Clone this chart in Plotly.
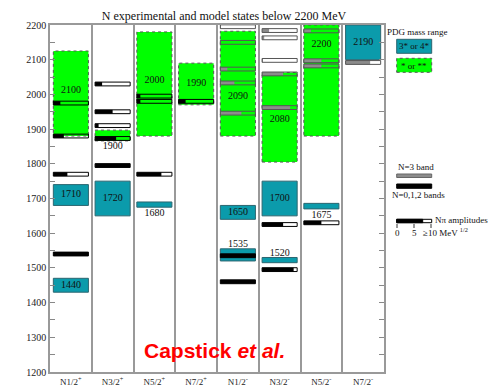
import numpy as np
import plotly.graph_objects as go

# columns (partial waves)
columns = ["N1/2<sup>+</sup>", "N3/2<sup>+</sup>", "N5/2<sup>+</sup>", "N7/2<sup>+</sup>",
           "N1/2<sup>-</sup>", "N3/2<sup>-</sup>", "N5/2<sup>-</sup>", "N7/2<sup>-</sup>"]

# PDG 3* / 4* states: column, mass range, name
teal_col = [0, 0, 1, 2, 4, 4, 5, 5, 6, 7]
teal_lo = [1430, 1680, 1650, 1675, 1520, 1640, 1515, 1650, 1670, 2100]
teal_hi = [1470, 1740, 1750, 1690, 1555, 1680, 1530, 1750, 1686, 2200]
teal_name = ["1440", "1710", "1720", "1680", "1535", "1650", "1520", "1700", "1675", "2190"]
teal_label_y = [1450, 1711, 1700, 1657, 1568, 1660, 1542, 1700, 1652, 2150]

# PDG * / ** states
green_col = [0, 1, 2, 3, 4, 5, 6]
green_lo = [1880, 1866, 1880, 1970, 1880, 1805, 1880]
green_hi = [2125, 1897, 2180, 2090, 2182, 2063, 2200]
green_name = ["2100", "1900", "2000", "1990", "2090", "2080", "2200"]
green_label_y = [2011, 1851, 2041, 2030, 1995, 1929, 2145]

# model states: column, mass, N pi amplitude fraction, band (0: N=0,1,2  1: N=3)
model_col = [0, 0, 0, 0,
             1, 1, 1, 1, 1,
             2, 2, 2,
             3,
             4, 4, 4, 4, 4, 4, 4,
             5, 5, 5, 5, 5, 5, 5,
             6, 6, 6, 6,
             7]
model_mass = [1540, 1770, 1880, 1975,
              1795, 1873, 1910, 1950, 2030,
              1770, 1980, 1995,
              1980,
              1460, 1535, 1946, 2033, 2073, 2150, 2195,
              1495, 1625, 1962, 2059, 2098, 2163, 2184,
              1630, 2082, 2097, 2183,
              2092]
model_amp = [1.0, 0.4, 0.3, 0.2,
             1.0, 0.6, 0.1, 0.5, 0.2,
             0.7, 0.1, 0.1,
             0.2,
             1.0, 1.0, 0.6, 0.4, 0.2, 0.0, 0.0,
             0.9, 0.6, 0.8, 0.6, 0.0, 0.06, 0.2,
             0.5, 0.5, 0.5, 0.2,
             0.7]
model_band = [0, 0, 0, 0,
              0, 0, 0, 0, 0,
              0, 0, 0,
              0,
              0, 0, 1, 1, 1, 1, 1,
              0, 0, 1, 1, 1, 1, 1,
              0, 1, 1, 1,
              1]

serif = "Liberation Serif, Times New Roman, serif"
teal = "#0B9BAB"
half = 0.42
bar_h = 11

fig = go.Figure()

# PDG 3*/4* boxes
fig.add_trace(go.Bar(x=teal_col, base=teal_lo,
                     y=np.array(teal_hi) - np.array(teal_lo),
                     width=2 * half, marker=dict(color=teal, line=dict(color="#2C6670", width=1))))

# model bars: filled part then outline
mcol = np.array(model_col)
mmass = np.array(model_mass)
mamp = np.array(model_amp)
fill_col = ["#000000" if b == 0 else "#8C8C8C" for b in model_band]
edge_col = ["#000000" if b == 0 else "#555555" for b in model_band]
fig.add_trace(go.Bar(x=mcol, base=mmass - bar_h / 2, y=[bar_h] * len(mcol),
                     width=2 * half * mamp, offset=[-half] * len(mcol),
                     marker=dict(color=fill_col, line=dict(width=0))))
fig.add_trace(go.Bar(x=mcol, base=mmass - bar_h / 2, y=[bar_h] * len(mcol),
                     width=2 * half, offset=[-half] * len(mcol),
                     marker=dict(color="rgba(0,0,0,0)", line=dict(color=edge_col, width=1))))

# labels
fig.add_trace(go.Scatter(x=teal_col + green_col, y=teal_label_y + green_label_y,
                         text=teal_name + green_name, mode="text",
                         textfont=dict(family=serif, size=10, color="#111")))

# PDG * / ** boxes (dashed)
for c, lo, hi in zip(green_col, green_lo, green_hi):
    fig.add_shape(type="rect", xref="x", yref="y", x0=c - half, x1=c + half, y0=lo, y1=hi,
                  fillcolor="#00FF00", line=dict(color="#555", width=1, dash="dot"), layer="below")

# page has an 8px body margin, so the figure starts at (8, 8)
# helpers: page pixel -> paper coords (plot area is x 50..384, y 25..372 on the page)
def px(x):
    return (x - 50) / 334

def py(y):
    return (372 - y) / 347

legend_shapes = [
    (396.7, 431.7, 39.3, 53.3, teal, "#2C6670", "solid"),
    (396.7, 431.7, 58.3, 72.3, "#00FF00", "#555", "dot"),
    (396.7, 431.7, 174, 177.5, "#8C8C8C", "#666", "solid"),
    (396.7, 431.7, 184, 188.3, "#000000", "#000", "solid"),
    (396.7, 431.7, 219.3, 222.7, "#FFFFFF", "#000", "solid"),
    (396.7, 422.7, 219.3, 222.7, "#000000", "#000", "solid"),
]
for x0, x1, y0, y1, fc, lc, dash in legend_shapes:
    fig.add_shape(type="rect", xref="paper", yref="paper", x0=px(x0), x1=px(x1),
                  y0=py(y1), y1=py(y0), fillcolor=fc, line=dict(color=lc, width=1, dash=dash))
for tx in [397, 414, 431]:
    fig.add_shape(type="line", xref="paper", yref="paper", x0=px(tx), x1=px(tx),
                  y0=py(228), y1=py(224), line=dict(color="#333", width=1))

legend_text = [
    ("PDG mass range", 417, 32, "center"),
    ("3* or 4*", 414, 46.5, "center"),
    ("* or **", 414, 65.5, "center"),
    ("N=3 band", 416, 167, "center"),
    ("N=0,1,2 bands", 418, 195, "center"),
    ("Nπ amplitudes", 433, 220, "left"),
    ("0", 397, 233, "center"),
    ("5", 414, 233, "center"),
    ("≥10 MeV <sup>1/2</sup>", 421, 232, "left"),
]
for t, x, y, anc in legend_text:
    fig.add_annotation(text=t, xref="paper", yref="paper", x=px(x), y=py(y),
                       xanchor=anc, yanchor="middle", showarrow=False,
                       font=dict(family=serif, size=9, color="#111"))

fig.add_annotation(text="<b>Capstick <i>et al.</i></b>", xref="paper", yref="paper",
                   x=px(214), y=py(350), showarrow=False, xanchor="center", yanchor="middle",
                   font=dict(family="Liberation Sans, Arial, sans-serif", size=21, color="#FF0000"))

fig.update_layout(
    width=488, height=380,
    margin=dict(l=42, r=112, t=17, b=16, autoexpand=False),
    paper_bgcolor="white", plot_bgcolor="white",
    barmode="overlay", showlegend=False,
    title=dict(text="N experimental and model states below 2200 MeV",
               xref="paper", x=px(224), xanchor="center",
               yref="container", y=1 - 8 / 380, yanchor="middle",
               font=dict(family=serif, size=12, color="#111")),
)
fig.update_xaxes(range=[-0.5, 7.5], tickvals=list(range(8)), ticktext=columns,
                 showline=True, linecolor="#999", linewidth=1.5, mirror=True,
                 showgrid=False, zeroline=False, ticks="", automargin=False,
                 minor=dict(tickvals=[i + 0.5 for i in range(7)], showgrid=True,
                            gridcolor="#999", gridwidth=1.5),
                 tickfont=dict(family=serif, size=9, color="#222"))
fig.update_yaxes(range=[1200, 2200], dtick=100, ticks="inside", ticklen=5, tickcolor="#888",
                 showline=True, linecolor="#999", linewidth=1.5, mirror="ticks",
                 showgrid=False, zeroline=False, automargin=False,
                 minor=dict(dtick=50, ticks="inside", ticklen=5, tickcolor="#888"),
                 tickfont=dict(family=serif, size=10, color="#222"))

fig.write_html("out.html")
